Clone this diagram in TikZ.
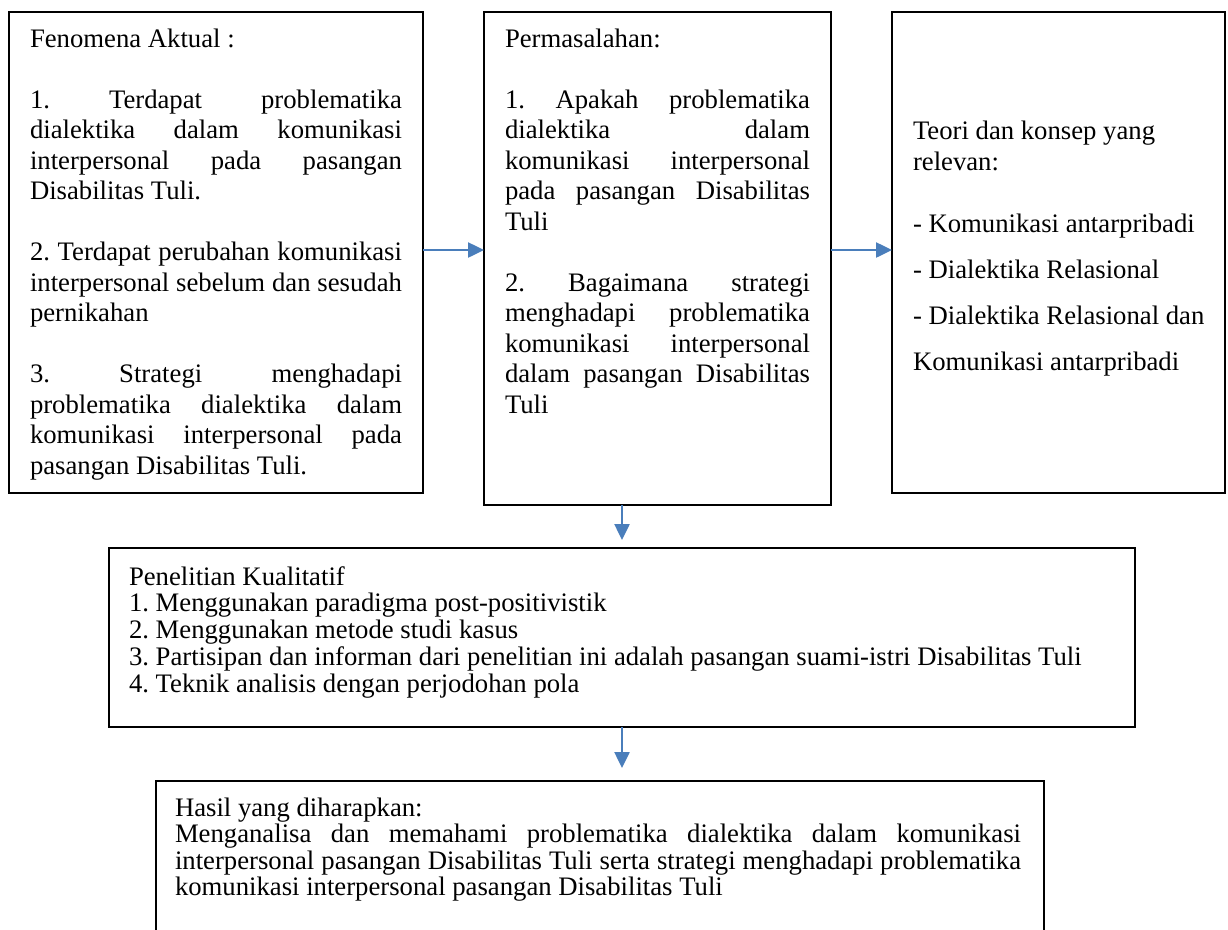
\documentclass[tikz,border=0pt]{standalone}
\usepackage{fontspec}
\setmainfont{Liberation Serif}
\usetikzlibrary{arrows.meta}
\definecolor{arrowblue}{RGB}{74,126,187}
\begin{document}
\frenchspacing
\begin{tikzpicture}[x=1pt,y=-1pt,
  box/.style={draw=black, line width=1.5pt, inner sep=0pt, outer sep=0pt, anchor=north west},
  txt/.style={inner sep=0pt, outer sep=0pt, anchor=north west, align=left, font=\fontsize{26.7}{30.5}\selectfont\frenchspacing},
  txtb/.style={txt, font=\fontsize{26.7}{26.8}\selectfont\frenchspacing},
  txtc/.style={txt, font=\fontsize{26.7}{26.5}\selectfont\frenchspacing},
  arr/.style={draw=arrowblue, line width=2.5pt, -{Triangle[length=16pt,width=15pt]}}]
\path[use as bounding box] (0,0) rectangle (1228,929);
\clip (0,0) rectangle (1228,929);
% boxes
\node[box, minimum width=414pt, minimum height=481pt] (b1) at (9,12) {};
\node[box, minimum width=347pt, minimum height=493pt] (b2) at (484,12) {};
\node[box, minimum width=333pt, minimum height=481pt] (b3) at (892,12) {};
\node[box, minimum width=1026pt, minimum height=179pt] (b4) at (109,548) {};
\node[box, minimum width=888pt, minimum height=200pt] (b5) at (156,781) {};
% texts
\node[txt] (t1) at (30,25.65) {\strut Fenomena Aktual :\\[30.5pt]
\hbox to 372pt{1. Terdapat problematika}\\
\hbox to 372pt{dialektika dalam komunikasi}\\
\hbox to 372pt{interpersonal pada pasangan}\\
Disabilitas Tuli.\\[30.5pt]
\hbox to 372pt{2. Terdapat perubahan komunikasi}\\
\hbox to 372pt{interpersonal sebelum dan sesudah}\\
pernikahan\\[30.5pt]
\hbox to 372pt{3. Strategi menghadapi}\\
\hbox to 372pt{problematika dialektika dalam}\\
\hbox to 372pt{komunikasi interpersonal pada}\\
pasangan Disabilitas Tuli.};
\node[txt] (t2) at (505,25.65) {\strut Permasalahan:\\[30.5pt]
\hbox to 305pt{1. Apakah problematika}\\
\hbox to 305pt{dialektika dalam}\\
\hbox to 305pt{komunikasi interpersonal}\\
\hbox to 305pt{pada pasangan Disabilitas}\\
Tuli\\[30.5pt]
\hbox to 305pt{2. Bagaimana strategi}\\
\hbox to 305pt{menghadapi problematika}\\
\hbox to 305pt{komunikasi interpersonal}\\
\hbox to 305pt{dalam pasangan Disabilitas}\\
Tuli};
\node[txt] (t3) at (913,118.15) {\strut Teori dan konsep yang\\
relevan:\\[31.5pt]
- Komunikasi antarpribadi\\[15.5pt]
- Dialektika Relasional\\[15.5pt]
- Dialektika Relasional dan\\[15.5pt]
Komunikasi antarpribadi};
\node[txtb] (t4) at (129,566.24) {\strut Penelitian Kualitatif\\
1. Menggunakan paradigma post-positivistik\\
2. Menggunakan metode studi kasus\\
3. Partisipan dan informan dari penelitian ini adalah pasangan suami-istri Disabilitas Tuli\\
4. Teknik analisis dengan perjodohan pola};
\node[txtc] (t5) at (175,797.45) {\strut Hasil yang diharapkan:\\
\hbox to 846pt{Menganalisa dan memahami problematika dialektika dalam komunikasi}\\
\hbox to 846pt{interpersonal pasangan Disabilitas Tuli serta strategi menghadapi problematika}\\
komunikasi interpersonal pasangan Disabilitas Tuli};
% arrows
\coordinate (ya) at (0,250);
\draw[arr] (b1.east |- ya) -- (b2.west |- ya);
\draw[arr] (b2.east |- ya) -- (b3.west |- ya);
\draw[arr, shorten >=8pt] (b2.south -| b4.north) -- (b4.north);
\draw[arr, shorten >=13pt] (b4.south) -- (b5.north -| b4.south);
\end{tikzpicture}
\end{document}
